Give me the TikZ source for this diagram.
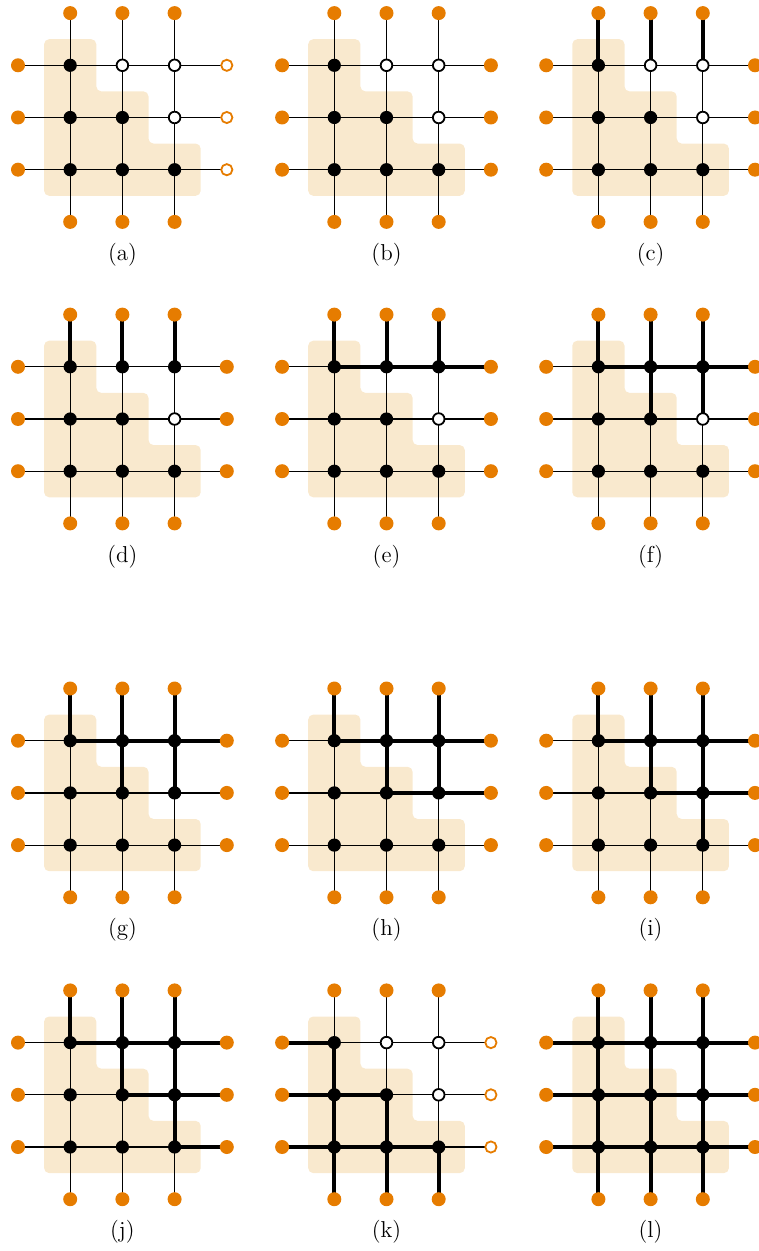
\documentclass[tikz,border=0pt]{standalone}
\usepackage{xstring}
\definecolor{term}{RGB}{230,124,0}
\definecolor{bgc}{RGB}{249,233,206}
\pgfdeclarelayer{bglayer}
\pgfdeclarelayer{edgelayer}
\pgfsetlayers{bglayer,edgelayer,main}
\tikzset{
  blackdot/.style={circle,fill=black,inner sep=0pt,minimum size=6.6pt},
  opendot/.style={circle,draw=black,fill=white,line width=0.9pt,inner sep=0pt,minimum size=5.8pt},
  termdot/.style={circle,fill=term,inner sep=0pt,minimum size=7pt},
  termring/.style={circle,draw=term,fill=white,line width=0.9pt,inner sep=0pt,minimum size=5.6pt},
  thinedge/.style={line width=0.6pt,black,shorten <=-0.8pt,shorten >=-0.8pt},
  thickedge/.style={line width=2pt,black,shorten <=-1pt,shorten >=-1pt},
  stair/.style={fill=bgc,rounded corners=2.5pt},
  panellabel/.style={font=\fontsize{11.5}{13}\selectfont,inner sep=0pt}
}
% #1 name, #2 X0, #3 Y0, #4 label, #5 right terminal style, #6 open nodes, #7 thick edges
\newcommand\gridpanel[7]{%
  \begin{scope}[shift={(#2,#3)}]
    \begin{pgfonlayer}{bglayer}
      \fill[stair] (-26.1,-26.1) -- (26.1,-26.1) -- (26.1,26.1) -- (78.3,26.1)
        -- (78.3,78.3) -- (130.5,78.3) -- (130.5,130.5) -- (-26.1,130.5) -- cycle;
    \end{pgfonlayer}
    \foreach \i in {1,2,3}{\foreach \j in {1,2,3}{%
      \IfSubStr{,#6,}{,\i\j,}{\def\st{opendot}}{\def\st{blackdot}}%
      \node[\st] (#1-\i\j) at ({(\j-1)*52.2},{(\i-1)*52.2}) {};
    }}
    \foreach \j in {1,2,3}{%
      \node[termdot] (#1-0\j) at ({(\j-1)*52.2},-52.2) {};
      \node[termdot] (#1-4\j) at ({(\j-1)*52.2},156.6) {};
    }
    \foreach \i in {1,2,3}{%
      \node[termdot] (#1-\i0) at (-52.2,{(\i-1)*52.2}) {};
      \node[#5] (#1-\i4) at (156.6,{(\i-1)*52.2}) {};
    }
    \begin{pgfonlayer}{edgelayer}
      \foreach \i in {1,2,3}{\foreach \j/\k in {0/1,1/2,2/3,3/4}{%
        \draw[thinedge] (#1-\i\j) -- (#1-\i\k);
      }}
      \foreach \j in {1,2,3}{\foreach \i/\k in {0/1,1/2,2/3,3/4}{%
        \draw[thinedge] (#1-\i\j) -- (#1-\k\j);
      }}
      \ifx\relax#7\relax\else
      \foreach \u/\v in {#7}{\draw[thickedge] (#1-\u) -- (#1-\v);}
      \fi
    \end{pgfonlayer}
    \node[panellabel] (#1-lab) at (52.2,189.5) {(#4)};
  \end{scope}%
}
\begin{document}
\begin{tikzpicture}[x=0.5pt,y=-0.5pt]
\useasboundingbox (0,0) rectangle (759,1251);
\gridpanel{a}{70.2}{65.3}{a}{termring}{12,13,23}{}
\gridpanel{b}{334.3}{65.3}{b}{termdot}{12,13,23}{}
\gridpanel{c}{598.4}{65.3}{c}{termdot}{12,13,23}{01/11,02/12,03/13}
\gridpanel{d}{70.2}{366.8}{d}{termdot}{23}{01/11,02/12,03/13}
\gridpanel{e}{334.3}{366.8}{e}{termdot}{23}{01/11,02/12,03/13,11/12,12/13,13/14}
\gridpanel{f}{598.4}{366.8}{f}{termdot}{23}{01/11,02/12,03/13,11/12,12/13,13/14,12/22,13/23}
\gridpanel{g}{70.2}{740.7}{g}{termdot}{}{01/11,02/12,03/13,11/12,12/13,13/14,12/22,13/23}
\gridpanel{h}{334.3}{740.7}{h}{termdot}{}{01/11,02/12,03/13,11/12,12/13,13/14,12/22,13/23,22/23,23/24}
\gridpanel{i}{598.4}{740.7}{i}{termdot}{}{01/11,02/12,03/13,11/12,12/13,13/14,12/22,13/23,22/23,23/24,23/33}
\gridpanel{j}{70.2}{1042.6}{j}{termdot}{}{01/11,02/12,03/13,11/12,12/13,13/14,12/22,13/23,22/23,23/24,23/33,33/34}
\gridpanel{k}{334.3}{1042.6}{k}{termring}{12,13,23}{10/11,20/21,30/31,11/21,21/31,31/41,21/22,31/32,32/33,22/32,32/42,33/43}
\gridpanel{l}{598.4}{1042.6}{l}{termdot}{}{10/11,11/12,12/13,13/14,20/21,21/22,22/23,23/24,30/31,31/32,32/33,33/34,01/11,11/21,21/31,31/41,02/12,12/22,22/32,32/42,03/13,13/23,23/33,33/43}
\end{tikzpicture}
\end{document}
